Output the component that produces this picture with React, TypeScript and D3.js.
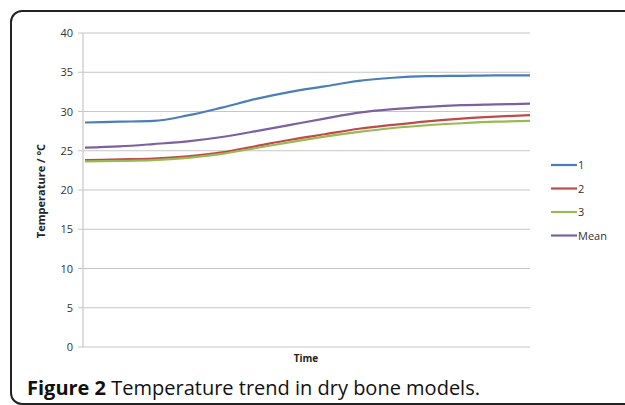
import React, { useEffect, useRef } from 'react';
import * as d3 from 'd3';

const timePoints = [0, 1, 2, 3, 4, 5, 6, 7, 8, 9, 10, 11, 12, 13];
const series1 = [28.6, 28.7, 28.8, 29.5, 30.5, 31.6, 32.5, 33.2, 33.9, 34.3, 34.5, 34.55, 34.6, 34.6];
const series2 = [23.8, 23.9, 24.0, 24.3, 24.8, 25.6, 26.4, 27.1, 27.8, 28.3, 28.75, 29.1, 29.35, 29.55];
const series3 = [23.65, 23.7, 23.8, 24.1, 24.6, 25.35, 26.1, 26.8, 27.4, 27.9, 28.25, 28.5, 28.7, 28.8];
const seriesMean = [25.4, 25.55, 25.85, 26.2, 26.75, 27.5, 28.3, 29.1, 29.85, 30.3, 30.6, 30.8, 30.9, 31.0];
const seriesNames = ['1', '2', '3', 'Mean'];
const yTicks = [0, 5, 10, 15, 20, 25, 30, 35, 40];

const colors = ['#4a7ebb', '#be4b48', '#98b954', '#7d60a0'];

const App = () => {
    const svgRef = useRef<SVGSVGElement>(null);

    useEffect(() => {
        const svg = d3.select(svgRef.current);
        svg.selectAll('*').remove();
        const font = '"Open Sans", "Noto Sans", sans-serif';

        // frame round the figure
        svg.append('rect')
            .attr('x', 11).attr('y', 11)
            .attr('width', 640).attr('height', 393)
            .attr('rx', 11)
            .attr('fill', 'white')
            .attr('stroke', '#222')
            .attr('stroke-width', 2);

        const left = 83, right = 530, top = 33, bottom = 347;
        const x = d3.scaleLinear().domain([0, timePoints.length - 1]).range([left + 2, right]);
        const y = d3.scaleLinear().domain([0, 40]).range([bottom, top]);

        const grid = svg.append('g');
        grid.selectAll('line')
            .data(yTicks)
            .enter().append('line')
            .attr('x1', left - 5).attr('x2', right)
            .attr('y1', d => y(d)).attr('y2', d => y(d))
            .attr('stroke', '#c6c6c6')
            .attr('stroke-width', 1.2);
        grid.append('line')
            .attr('x1', left).attr('x2', left)
            .attr('y1', top).attr('y2', bottom)
            .attr('stroke', '#c6c6c6')
            .attr('stroke-width', 1.2);

        svg.append('g').selectAll('text')
            .data(yTicks)
            .enter().append('text')
            .attr('x', 73)
            .attr('y', d => y(d) + 4)
            .attr('text-anchor', 'end')
            .attr('font-family', font)
            .attr('font-size', 11)
            .attr('fill', '#333')
            .text(d => d);

        const all = [series1, series2, series3, seriesMean];
        const line = d3.line<number>()
            .x((d, i) => x(timePoints[i]))
            .y(d => y(d))
            .curve(d3.curveMonotoneX);
        svg.append('g').selectAll('path')
            .data(all)
            .enter().append('path')
            .attr('d', d => line(d))
            .attr('fill', 'none')
            .attr('stroke', (d, i) => colors[i])
            .attr('stroke-width', 2.2);

        // legend
        const legend = svg.append('g');
        seriesNames.forEach((name, i) => {
            const ly = 165 + i * 23.5;
            legend.append('line')
                .attr('x1', 551).attr('x2', 577)
                .attr('y1', ly).attr('y2', ly)
                .attr('stroke', colors[i])
                .attr('stroke-width', 2.2);
            legend.append('text')
                .attr('x', 578).attr('y', ly + 4)
                .attr('font-family', font)
                .attr('font-size', 11)
                .attr('fill', '#333')
                .text(name);
        });

        svg.append('text')
            .attr('x', 306).attr('y', 362)
            .attr('text-anchor', 'middle')
            .attr('font-family', font)
            .attr('font-size', 10)
            .attr('font-weight', 'bold')
            .attr('fill', '#222')
            .text('Time');

        svg.append('text')
            .attr('transform', 'translate(45,191) rotate(-90)')
            .attr('text-anchor', 'middle')
            .attr('font-family', font)
            .attr('font-size', 11)
            .attr('font-weight', 'bold')
            .attr('fill', '#222')
            .text('Temperature / °C');

        const caption = svg.append('text')
            .attr('x', 27).attr('y', 395)
            .attr('font-family', font)
            .attr('font-size', 20)
            .attr('fill', '#111');
        caption.append('tspan').attr('font-weight', 'bold').text('Figure 2');
        caption.append('tspan').text(' Temperature trend in dry bone models.');
    }, []);

    return (
        <svg ref={svgRef} width={625} height={405} style={{ position: 'absolute', left: 0, top: 0 }}></svg>
    );
};

export default App;
